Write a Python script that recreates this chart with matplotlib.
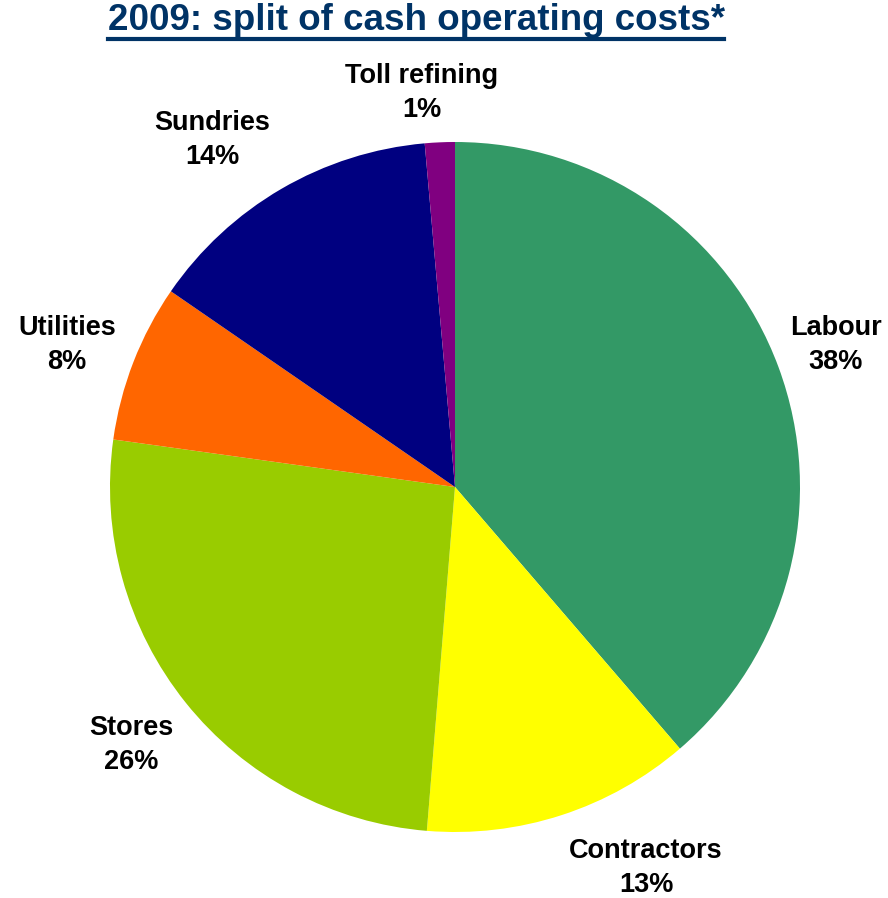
import matplotlib.pyplot as plt
from matplotlib.lines import Line2D

plt.rcParams['font.family'] = ['Liberation Sans', 'DejaVu Sans']

# slice sizes (%), clockwise from 12 o'clock
categories = ['Labour', 'Contractors', 'Stores', 'Utilities', 'Sundries', 'Toll refining']
values = [38.7, 12.6, 25.9, 7.4, 14.0, 1.4]
pct_labels = ['38%', '13%', '26%', '8%', '14%', '1%']
colors = ['#339966', '#FFFF00', '#99CC00', '#FF6600', '#000080', '#800080']

# label centres in pixels of the 888x898 image
label_px = [(836, 345), (646, 868), (131, 745), (67, 345), (212, 140), (422, 93)]

W, H = 888, 898
cx, cy, r = 455, 487, 345

fig = plt.figure(figsize=(W / 100, H / 100), dpi=100)
ax = fig.add_axes([(cx - r) / W, (H - cy - r) / H, 2 * r / W, 2 * r / H])
ax.pie(values, colors=colors, startangle=90, counterclock=False, radius=1,
       wedgeprops=dict(linewidth=0))
ax.set_xlim(-1, 1)
ax.set_ylim(-1, 1)
ax.axis('off')

for name, pct, (px, py) in zip(categories, pct_labels, label_px):
    ax.text((px - cx) / r, (cy - py) / r, name + '\n' + pct, ha='center', va='center',
            fontsize=19.5, fontweight='bold', linespacing=1.42, clip_on=False)

title = fig.text(416 / W, 1 - 21 / H, '2009: split of cash operating costs*',
                 ha='center', va='center', fontsize=26.5, fontweight='bold', color='#003366')

# underline the title
fig.canvas.draw()
bb = title.get_window_extent().transformed(fig.transFigure.inverted())
fig.add_artist(Line2D([bb.x0, bb.x1], [bb.y0 - 0.001, bb.y0 - 0.001],
                      transform=fig.transFigure, color='#003366', linewidth=3))

fig.savefig('out.png', dpi=100)
